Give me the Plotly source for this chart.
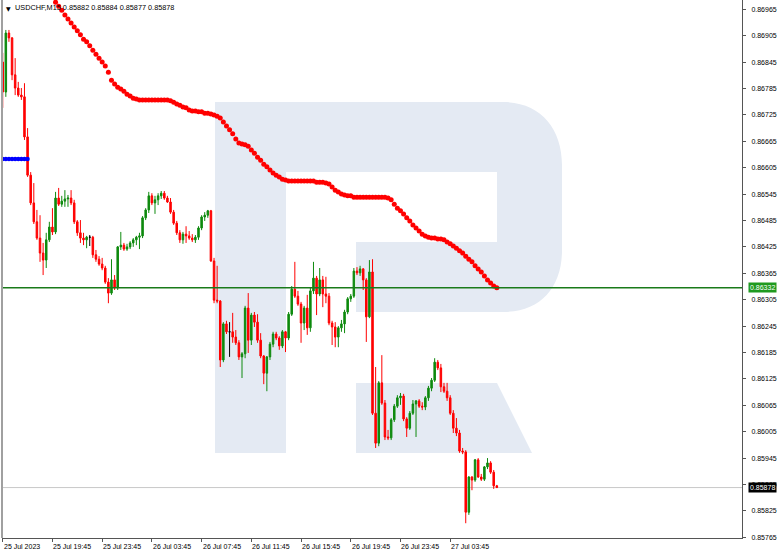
import plotly.graph_objects as go
import pandas as pd

title_text = "USDCHF,M15 0.85882 0.85884 0.85877 0.85878"
start_time = "2023-07-25 15:45"

open_ = [0.86845,0.86777,0.86911,0.86900,0.86816,0.86786,0.86770,0.86766,0.86675,0.86588,
         0.86525,0.86482,0.86445,0.86411,0.86395,0.86441,0.86470,0.86459,0.86536,0.86522,
         0.86529,0.86534,0.86536,0.86525,0.86482,0.86457,0.86445,0.86441,0.86447,0.86447,
         0.86407,0.86397,0.86386,0.86377,0.86345,0.86320,0.86350,0.86332,0.86425,0.86429,
         0.86420,0.86425,0.86434,0.86441,0.86447,0.86450,0.86491,0.86509,0.86541,0.86525,
         0.86532,0.86541,0.86547,0.86536,0.86527,0.86504,0.86479,0.86457,0.86441,0.86454,
         0.86450,0.86445,0.86441,0.86447,0.86468,0.86493,0.86497,0.86507,0.86393,0.86304,
         0.86302,0.86168,0.86250,0.86232,0.86232,0.86220,0.86207,0.86175,0.86182,0.86286,
         0.86213,0.86270,0.86254,0.86213,0.86177,0.86138,0.86175,0.86204,0.86227,0.86218,
         0.86200,0.86232,0.86218,0.86272,0.86329,0.86313,0.86295,0.86252,0.86286,0.86241,
         0.86325,0.86354,0.86318,0.86350,0.86318,0.86313,0.86252,0.86243,0.86220,0.86241,
         0.86250,0.86277,0.86307,0.86313,0.86370,0.86366,0.86375,0.86350,0.86266,0.86368,
         0.86047,0.85979,0.86116,0.86070,0.85993,0.85991,0.86032,0.86063,0.86082,0.86086,
         0.86034,0.86013,0.86047,0.86068,0.86075,0.86063,0.86061,0.86082,0.86104,0.86122,
         0.86163,0.86150,0.86107,0.86097,0.86082,0.86047,0.86013,0.86002,0.85961,0.85959,
         0.85822,0.85902,0.85895,0.85941,0.85902,0.85897,0.85925,0.85934,0.85913,0.85882]

high = [0.86866,0.86918,0.86918,0.86902,0.86854,0.86800,0.86786,0.86797,0.86695,0.86595,
        0.86570,0.86509,0.86497,0.86434,0.86457,0.86482,0.86513,0.86550,0.86559,0.86541,
        0.86554,0.86543,0.86554,0.86532,0.86486,0.86486,0.86457,0.86450,0.86452,0.86450,
        0.86418,0.86404,0.86400,0.86382,0.86354,0.86397,0.86361,0.86427,0.86459,0.86434,
        0.86432,0.86438,0.86445,0.86450,0.86457,0.86495,0.86513,0.86550,0.86547,0.86541,
        0.86547,0.86552,0.86552,0.86541,0.86536,0.86509,0.86484,0.86463,0.86459,0.86472,
        0.86461,0.86454,0.86452,0.86472,0.86497,0.86504,0.86509,0.86509,0.86400,0.86382,
        0.86304,0.86254,0.86257,0.86254,0.86275,0.86236,0.86213,0.86186,0.86291,0.86320,
        0.86275,0.86277,0.86272,0.86229,0.86179,0.86177,0.86209,0.86232,0.86232,0.86222,
        0.86236,0.86234,0.86277,0.86336,0.86391,0.86325,0.86300,0.86291,0.86316,0.86332,
        0.86391,0.86359,0.86377,0.86359,0.86357,0.86320,0.86257,0.86254,0.86245,0.86259,
        0.86282,0.86311,0.86318,0.86377,0.86379,0.86382,0.86377,0.86354,0.86395,0.86397,
        0.86152,0.86120,0.86179,0.86077,0.86009,0.86036,0.86068,0.86088,0.86093,0.86091,
        0.86038,0.86052,0.86077,0.86077,0.86079,0.86072,0.86086,0.86109,0.86127,0.86172,
        0.86168,0.86159,0.86116,0.86116,0.86088,0.86054,0.86036,0.86009,0.85968,0.85963,
        0.85904,0.85904,0.85943,0.85945,0.85909,0.85927,0.85945,0.85938,0.85918,0.85884]

low = [0.86741,0.86766,0.86891,0.86804,0.86770,0.86766,0.86759,0.86668,0.86584,0.86520,
       0.86477,0.86441,0.86391,0.86361,0.86377,0.86436,0.86452,0.86454,0.86518,0.86516,
       0.86516,0.86516,0.86520,0.86477,0.86450,0.86434,0.86429,0.86422,0.86427,0.86400,
       0.86391,0.86382,0.86372,0.86341,0.86297,0.86316,0.86327,0.86327,0.86418,0.86416,
       0.86416,0.86420,0.86425,0.86429,0.86420,0.86445,0.86486,0.86502,0.86520,0.86500,
       0.86520,0.86534,0.86532,0.86525,0.86500,0.86475,0.86452,0.86434,0.86432,0.86434,
       0.86441,0.86436,0.86434,0.86441,0.86463,0.86484,0.86491,0.86391,0.86297,0.86297,
       0.86152,0.86163,0.86227,0.86175,0.86207,0.86202,0.86168,0.86127,0.86172,0.86184,
       0.86202,0.86243,0.86207,0.86172,0.86113,0.86097,0.86168,0.86197,0.86213,0.86191,
       0.86195,0.86186,0.86213,0.86268,0.86309,0.86291,0.86207,0.86236,0.86225,0.86232,
       0.86318,0.86270,0.86313,0.86288,0.86297,0.86247,0.86202,0.86197,0.86197,0.86232,
       0.86229,0.86272,0.86300,0.86309,0.86361,0.86359,0.86327,0.86209,0.86263,0.86043,
       0.85968,0.85972,0.86066,0.85986,0.85986,0.85986,0.86027,0.86059,0.86066,0.86029,
       0.85993,0.86009,0.86043,0.85993,0.86059,0.86054,0.86054,0.86075,0.86097,0.86118,
       0.86145,0.86095,0.86093,0.86075,0.86043,0.86002,0.85995,0.85957,0.85954,0.85797,
       0.85816,0.85872,0.85891,0.85900,0.85893,0.85893,0.85920,0.85909,0.85875,0.85877]

close = [0.86777,0.86911,0.86900,0.86816,0.86786,0.86770,0.86766,0.86675,0.86588,0.86525,
         0.86482,0.86445,0.86411,0.86395,0.86441,0.86470,0.86459,0.86536,0.86522,0.86529,
         0.86534,0.86536,0.86525,0.86482,0.86457,0.86445,0.86441,0.86447,0.86447,0.86407,
         0.86397,0.86386,0.86377,0.86345,0.86320,0.86350,0.86332,0.86425,0.86429,0.86420,
         0.86425,0.86434,0.86441,0.86447,0.86450,0.86491,0.86509,0.86541,0.86525,0.86532,
         0.86541,0.86547,0.86536,0.86527,0.86504,0.86479,0.86457,0.86441,0.86454,0.86450,
         0.86445,0.86441,0.86447,0.86468,0.86493,0.86497,0.86507,0.86393,0.86304,0.86302,
         0.86168,0.86250,0.86232,0.86232,0.86220,0.86207,0.86175,0.86182,0.86286,0.86213,
         0.86270,0.86254,0.86213,0.86177,0.86138,0.86175,0.86204,0.86227,0.86218,0.86200,
         0.86232,0.86218,0.86272,0.86329,0.86313,0.86295,0.86252,0.86286,0.86241,0.86325,
         0.86354,0.86318,0.86350,0.86318,0.86313,0.86252,0.86243,0.86220,0.86241,0.86250,
         0.86277,0.86307,0.86313,0.86370,0.86366,0.86375,0.86350,0.86266,0.86368,0.86047,
         0.85979,0.86116,0.86070,0.85993,0.85991,0.86032,0.86063,0.86082,0.86086,0.86034,
         0.86013,0.86047,0.86068,0.86075,0.86063,0.86061,0.86082,0.86104,0.86122,0.86163,
         0.86150,0.86107,0.86097,0.86082,0.86047,0.86013,0.86002,0.85961,0.85959,0.85822,
         0.85902,0.85895,0.85941,0.85902,0.85897,0.85925,0.85934,0.85913,0.85882,0.85878]

# red dotted moving average, first value belongs to bar 17
ma_first_bar = 17
ma_values = [0.86981,0.86972,0.86963,0.86952,0.86943,0.86934,0.86925,0.86916,0.86907,0.86897,
             0.86891,0.86882,0.86872,0.86863,0.86854,0.86845,0.86836,0.86822,0.86804,0.86795,
             0.86788,0.86784,0.86779,0.86772,0.86768,0.86763,0.86761,
             0.86759,0.86759,0.86759,0.86759,0.86759,0.86759,0.86759,0.86759,0.86759,0.86759,
             0.86757,0.86754,0.86750,0.86747,0.86743,0.86741,0.86736,0.86734,0.86734,0.86732,
             0.86732,0.86729,0.86729,0.86727,0.86725,0.86722,0.86718,0.86709,0.86700,0.86691,
             0.86682,0.86670,0.86661,0.86659,0.86657,0.86654,0.86645,0.86638,0.86629,0.86622,
             0.86613,0.86607,0.86600,0.86593,0.86588,0.86584,0.86579,0.86577,
             0.86575,0.86575,0.86575,0.86575,0.86575,0.86575,0.86575,0.86575,0.86575,
             0.86572,0.86572,0.86572,0.86570,0.86568,0.86561,0.86554,0.86550,0.86545,0.86543,
             0.86541,0.86541,
             0.86538,0.86538,0.86538,0.86538,0.86538,0.86538,0.86538,0.86538,0.86538,0.86538,0.86538,
             0.86536,0.86532,0.86522,0.86513,0.86507,0.86500,0.86491,0.86484,0.86475,0.86468,
             0.86461,0.86454,0.86450,0.86447,0.86445,0.86445,0.86443,0.86443,0.86441,0.86436,
             0.86432,0.86427,0.86422,0.86416,0.86411,0.86404,0.86397,0.86391,0.86382,0.86375,
             0.86368,0.86359,0.86350,0.86343,0.86336,0.86332]

# short blue dotted line at the left edge (bars 0..8)
blue_values = [0.86625,0.86625,0.86625,0.86625,0.86625,0.86625,0.86625,0.86625,0.86625]

green_level = 0.86332
last_price = 0.85878

x_tick_times = ["2023-07-25 15:45","2023-07-25 19:45","2023-07-25 23:45","2023-07-26 03:45",
                "2023-07-26 07:45","2023-07-26 11:45","2023-07-26 15:45","2023-07-26 19:45",
                "2023-07-26 23:45","2023-07-27 03:45"]
x_tick_labels = ["25 Jul 2023","25 Jul 19:45","25 Jul 23:45","26 Jul 03:45","26 Jul 07:45",
                 "26 Jul 11:45","26 Jul 15:45","26 Jul 19:45","26 Jul 23:45","27 Jul 03:45"]
y_ticks = [0.85765,0.85825,0.85885,0.85945,0.86005,0.86065,0.86125,0.86185,0.86245,0.86305,
           0.86365,0.86425,0.86485,0.86545,0.86605,0.86665,0.86725,0.86785,0.86845,0.86905,0.86965]

times = pd.date_range(start_time, periods=len(close), freq="15min")

GREEN = "#0e8a0e"
RED = "#ff0000"
FONT = "Liberation Sans"

nd = [i for i in range(len(close)) if open_[i] != close[i]]
dj = [i for i in range(len(close)) if open_[i] == close[i]]

def pick(arr, idx):
    return [arr[i] for i in idx]

fig = go.Figure()
fig.add_trace(go.Candlestick(
    x=pick(times, nd), open=pick(open_, nd), high=pick(high, nd), low=pick(low, nd), close=pick(close, nd),
    increasing=dict(line=dict(color=GREEN, width=1), fillcolor=GREEN),
    decreasing=dict(line=dict(color=RED, width=1), fillcolor=RED),
    whiskerwidth=0, showlegend=False, hoverinfo="skip"))
fig.add_trace(go.Candlestick(
    x=pick(times, dj), open=pick(open_, dj), high=pick(high, dj), low=pick(low, dj), close=pick(close, dj),
    increasing=dict(line=dict(color="#000000", width=1), fillcolor="#000000"),
    decreasing=dict(line=dict(color="#000000", width=1), fillcolor="#000000"),
    whiskerwidth=0, showlegend=False, hoverinfo="skip"))

fig.add_trace(go.Scatter(
    x=times[ma_first_bar:ma_first_bar + len(ma_values)], y=ma_values, mode="markers",
    marker=dict(color=RED, size=5, line=dict(width=0)), showlegend=False, hoverinfo="skip"))
fig.add_trace(go.Scatter(
    x=times[:len(blue_values)], y=blue_values, mode="markers",
    marker=dict(color="#0000ff", size=4.5, line=dict(width=0)), showlegend=False, hoverinfo="skip"))

# plot-area geometry in pixels (used only for the watermark logo)
L, R, T, B = 2, 742, 0, 538
def P(x, y):
    return f"{(x - L) / (R - L):.5f},{1 - (y - T) / (B - T):.5f}"

r_body = ("M" + P(215, 102) + " L" + P(503, 102) + " C" + P(540, 102) + " " + P(562, 128) + " " + P(562, 165) +
          " L" + P(562, 250) + " C" + P(562, 288) + " " + P(540, 312) + " " + P(503, 312) +
          " L" + P(356, 312) + " L" + P(356, 242) + " L" + P(497, 242) + " L" + P(497, 172) +
          " L" + P(286, 172) + " L" + P(286, 453) + " L" + P(215, 453) + " Z")
r_leg = "M" + P(356, 383) + " L" + P(497, 383) + " L" + P(532, 453) + " L" + P(356, 453) + " Z"

shapes = [
    dict(type="path", path=r_body, xref="paper", yref="paper", fillcolor="#e4eaf3", line=dict(width=0), layer="below"),
    dict(type="path", path=r_leg, xref="paper", yref="paper", fillcolor="#e4eaf3", line=dict(width=0), layer="below"),
    dict(type="line", xref="paper", yref="y", x0=0, x1=1, y0=last_price, y1=last_price,
         line=dict(color="#c8c8c8", width=1), layer="below"),
    dict(type="line", xref="paper", yref="y", x0=0, x1=1, y0=green_level, y1=green_level,
         line=dict(color="#1a7a1a", width=1.6)),
    dict(type="line", xref="paper", yref="paper", x0=0, x1=0, y0=0, y1=1,
         line=dict(color="#a0a0a0", width=2)),
]

annotations = []
for t, lab in zip(x_tick_times, x_tick_labels):
    annotations.append(dict(x=t, y=0, xref="x", yref="paper", text=lab, showarrow=False,
                            xanchor="left", yanchor="top", yshift=-3, xshift=-1,
                            font=dict(family=FONT, size=7, color="#000000")))
annotations.append(dict(x=0, y=1, xref="paper", yref="paper", text="▼", showarrow=False,
                        xanchor="left", yanchor="top", xshift=2, yshift=-3,
                        font=dict(family="DejaVu Sans", size=6, color="#000000")))
annotations.append(dict(x=0, y=1, xref="paper", yref="paper", text=title_text, showarrow=False,
                        xanchor="left", yanchor="top", xshift=11, yshift=-1,
                        font=dict(family=FONT, size=7.3, color="#000000")))
annotations.append(dict(x=1, y=green_level, xref="paper", yref="y", text=f"{green_level:.5f}",
                        showarrow=False, xanchor="left", yanchor="middle", xshift=6,
                        bgcolor="#1f9a1f", borderpad=1,
                        font=dict(family=FONT, size=7, color="#ffffff")))
annotations.append(dict(x=1, y=last_price, xref="paper", yref="y", text=f"{last_price:.5f}",
                        showarrow=False, xanchor="left", yanchor="middle", xshift=6,
                        bgcolor="#000000", borderpad=1,
                        font=dict(family=FONT, size=7, color="#ffffff")))

fig.update_layout(
    width=782, height=555,
    margin=dict(l=L, r=782 - R, t=T, b=555 - B),
    paper_bgcolor="#ffffff", plot_bgcolor="#ffffff",
    shapes=shapes, annotations=annotations,
    showlegend=False,
    xaxis=dict(type="date", range=["2023-07-25 15:41:30", "2023-07-28 03:13:30"],
               rangeslider=dict(visible=False), showgrid=False, zeroline=False,
               showline=True, linecolor="#555555", linewidth=1,
               tickvals=x_tick_times, ticks="outside", ticklen=3, tickcolor="#555555",
               showticklabels=False, fixedrange=True),
    yaxis=dict(side="right", range=[0.857634, 0.869861], showgrid=False, zeroline=False,
               showline=True, linecolor="#555555", linewidth=1,
               tickvals=y_ticks, tickformat=".5f", ticks="outside", ticklen=3, tickcolor="#555555",
               ticklabelstandoff=4,
               tickfont=dict(family=FONT, size=7, color="#000000"), fixedrange=True),
)

fig.write_html("out.html", config={"displayModeBar": False},
               post_script="document.body.style.margin='0';document.body.style.padding='0';")
